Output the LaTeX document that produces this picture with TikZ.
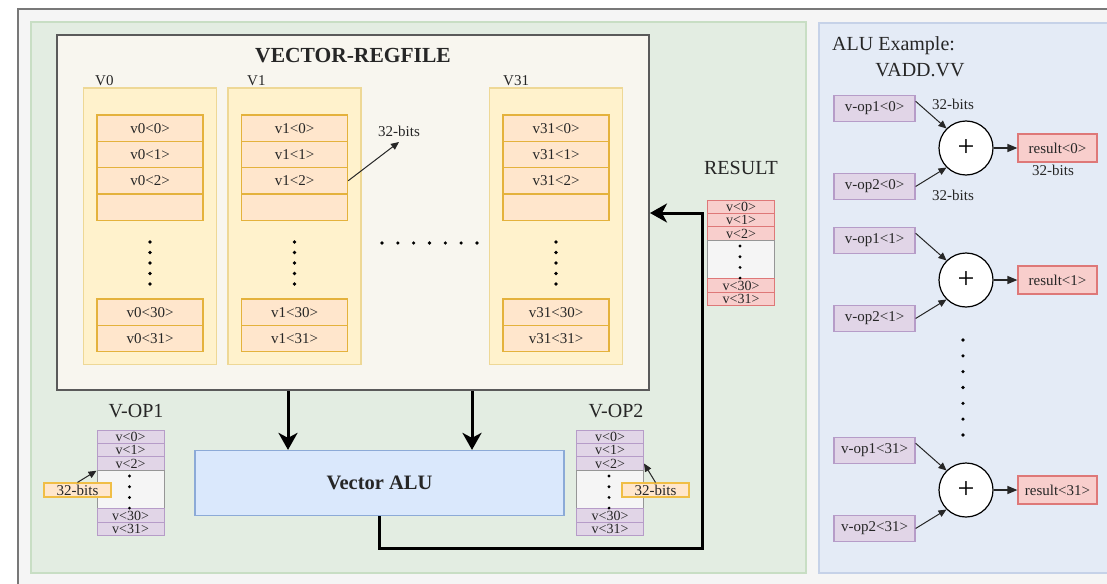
\documentclass[tikz,border=0pt]{standalone}
\usepackage{fontspec}
\setmainfont{Liberation Serif}
\usetikzlibrary{arrows.meta,calc}

\definecolor{outerbg}{RGB}{245,245,245}
\definecolor{outerline}{RGB}{120,120,120}
\definecolor{greenbg}{RGB}{227,237,226}
\definecolor{greenline}{RGB}{200,222,196}
\definecolor{bluebg}{RGB}{228,235,246}
\definecolor{blueline}{RGB}{198,210,232}
\definecolor{rffill}{RGB}{248,246,239}
\definecolor{rfline}{RGB}{90,90,90}
\definecolor{colfill}{RGB}{255,242,204}
\definecolor{colline}{RGB}{238,216,150}
\definecolor{cellfill}{RGB}{255,230,204}
\definecolor{cellline}{RGB}{228,178,60}
\definecolor{purpfill}{RGB}{225,213,231}
\definecolor{purpline}{RGB}{182,156,200}
\definecolor{redfill}{RGB}{248,206,204}
\definecolor{redline}{RGB}{222,120,120}
\definecolor{gapfill}{RGB}{245,245,245}
\definecolor{gapline}{RGB}{150,150,150}
\definecolor{alufill}{RGB}{218,232,252}
\definecolor{aluline}{RGB}{140,170,215}
\definecolor{bitsline}{RGB}{240,190,70}
\definecolor{inkc}{RGB}{38,38,38}

\begin{document}
\begin{tikzpicture}[x=1pt,y=-1pt,
  txt/.style={inner sep=0pt, text=inkc, font=\fontsize{15}{15}\selectfont},
  heading/.style={inner sep=0pt, text=inkc, font=\fontsize{20}{20}\selectfont},
  regcol/.style={draw=colline, fill=colfill, line width=1.2pt, minimum width=133pt, minimum height=276.5pt, inner sep=0pt},
  regcell/.style={draw=cellline, fill=cellfill, line width=1.4pt, minimum width=106pt, minimum height=26.3pt, inner sep=0pt, text=inkc, font=\fontsize{15}{15}\selectfont},
  opcell/.style={draw=purpline, fill=purpfill, line width=1pt, minimum width=67pt, minimum height=13.4pt, inner sep=0pt, text=inkc, font=\fontsize{14}{14}\selectfont},
  rescell/.style={opcell, draw=redline, fill=redfill},
  gapcell/.style={draw=gapline, fill=gapfill, line width=1pt, minimum width=67pt, minimum height=38.6pt, inner sep=0pt},
  bitsbox/.style={draw=bitsline, fill=cellfill, line width=1.2pt, minimum width=67pt, minimum height=14pt, inner sep=0pt, text=inkc, font=\fontsize{15}{15}\selectfont},
  oplbl/.style={draw=purpline, fill=purpfill, line width=1.2pt, minimum width=81pt, minimum height=26pt, inner sep=0pt, text=inkc, font=\fontsize{15}{15}\selectfont},
  resbox/.style={draw=redline, fill=redfill, line width=1.2pt, minimum width=79pt, minimum height=28pt, inner sep=0pt, text=inkc, font=\fontsize{15}{15}\selectfont},
  adder/.style={circle, draw=black, fill=white, line width=1.2pt, minimum size=54pt, inner sep=0pt, font=\fontsize{30}{30}\selectfont},
  dotmark/.style={circle, fill=black, inner sep=0pt, minimum size=3.6pt},
  thinarrow/.style={-{Triangle[length=8pt,width=7pt]}, line width=1pt, draw=inkc},
  bigarrow/.style={-{Stealth[length=17pt,width=19pt,inset=5pt]}, line width=3pt, draw=black}
]
\useasboundingbox (0,0) rectangle (1107,583);
\clip (0,0) rectangle (1107,583);
\fill[white] (0,0) rectangle (1107,583);

% frame and the two panels
\draw[fill=outerbg, draw=outerline, line width=1.5pt] (18,9) rectangle (1130,600);
\draw[fill=greenbg, draw=greenline, line width=1.5pt] (31,22) rectangle (806,573);
\draw[fill=bluebg, draw=blueline, line width=1.5pt] (819,23) rectangle (1130,573);

% vector register file
\node[draw=rfline, fill=rffill, line width=2pt, minimum width=592pt, minimum height=355pt, inner sep=0pt] (rf) at (353,212.5) {};
\node[inner sep=0pt, text=inkc, anchor=base, font=\bfseries\fontsize{21.5}{21.5}\selectfont] (title) at (353,63) {VECTOR-REGFILE};

\foreach \cx/\r/\lx in {150/0/95, 294.5/1/247, 556/31/503} {
  \node[regcol] (col\r) at (\cx,226.25) {};
  \node[txt, anchor=base west] (lab\r) at (\lx,86) {V\r};
  \foreach \k/\yy in {0/128.15, 1/154.45, 2/180.75}
    \node[regcell] (c\r-\k) at (\cx,\yy) {v\r<\k>};
  \node[regcell] (c\r-3) at (\cx,207.05) {};
  \node[regcell] (c\r-30) at (\cx,312.15) {v\r<30>};
  \node[regcell] (c\r-31) at (\cx,338.45) {v\r<31>};
  \foreach \j in {0,...,4}
    \node[dotmark] (vd\r-\j) at (\cx,242+10.5*\j) {};
}
\foreach \j in {0,...,6}
  \node[dotmark] (hd\j) at (382+15.83*\j,243) {};

\node[txt] (bitsr) at (399,131) {32-bits};
\coordinate (bitstip) at (399,142);
\draw[thinarrow] (c1-2.east) -- (bitstip);

% operand and result stacks
\foreach \nm/\cx/\tp/\sty in {op1/130.5/430/opcell, op2/610/430/opcell, res/741/200/rescell} {
  \node[\sty] (\nm-0) at (\cx,\tp+6.7) {v<0>};
  \node[\sty] (\nm-1) at (\cx,\tp+20.1) {v<1>};
  \node[\sty] (\nm-2) at (\cx,\tp+33.5) {v<2>};
  \node[gapcell] (\nm-gap) at (\cx,\tp+59.5) {};
  \node[\sty] (\nm-30) at (\cx,\tp+85.5) {v<30>};
  \node[\sty] (\nm-31) at (\cx,\tp+98.9) {v<31>};
  \foreach \j in {0,...,3}
    \node[dotmark, minimum size=3.2pt] (\nm-d\j) at (\cx-1,\tp+46+10.7*\j) {};
}
\node[heading, anchor=base] (vop1) at (136,417) {V-OP1};
\node[heading, anchor=base] (vop2) at (616,417) {V-OP2};
\node[heading, anchor=base] (reslab) at (741,174) {RESULT};

\node[bitsbox] (bits1) at (77.5,490) {32-bits};
\draw[thinarrow] (bits1.north) -- (op1-2.south west);
\node[bitsbox] (bits2) at (655.5,490) {32-bits};
\draw[thinarrow] (bits2.north) -- (op2-2.east);

% vector ALU and data paths
\node[draw=aluline, fill=alufill, line width=1.2pt, minimum width=369pt, minimum height=65pt, text=inkc, font=\bfseries\fontsize{20.5}{20.5}\selectfont] (alu) at (379.5,483) {Vector ALU};
\draw[bigarrow] ([xshift=-65pt]rf.south) -- ([xshift=-65pt]rf.south |- alu.north);
\draw[bigarrow] ([xshift=119pt]rf.south) -- ([xshift=119pt]rf.south |- alu.north);
\coordinate (retlow) at (702,548);
\coordinate (rethigh) at (702,213);
\draw[bigarrow, line join=miter] (alu.south) |- (retlow) -- (rethigh) -- (rethigh -| rf.east);

% ALU example panel
\node[heading, anchor=base west] (exa) at (832,51) {ALU Example:};
\node[heading, anchor=base] (exb) at (920,77) {VADD.VV};

\foreach \g/\cy in {0/148, 1/280, 31/490} {
  \node[oplbl] (a\g) at (874.5,\cy-39.5) {v-op1<\g>};
  \node[oplbl] (b\g) at (874.5,\cy+38.5) {v-op2<\g>};
  \node[adder] (s\g) at (966,\cy) {+};
  \node[resbox] (r\g) at (1057.5,\cy) {result<\g>};
  \draw[thinarrow] (a\g.10) -- (s\g.135);
  \draw[thinarrow] (b\g.east) -- (s\g.225);
  \draw[thinarrow, line width=1.3pt, -{Triangle[length=10pt,width=8pt]}] (s\g.east) -- (r\g.west);
}
\node[txt] (w1) at (953,104) {32-bits};
\node[txt] (w2) at (1053,170) {32-bits};
\node[txt] (w3) at (953,195) {32-bits};
\foreach \j in {0,...,6}
  \node[dotmark] (ad\j) at (963,340+15.83*\j) {};
\end{tikzpicture}
\end{document}
